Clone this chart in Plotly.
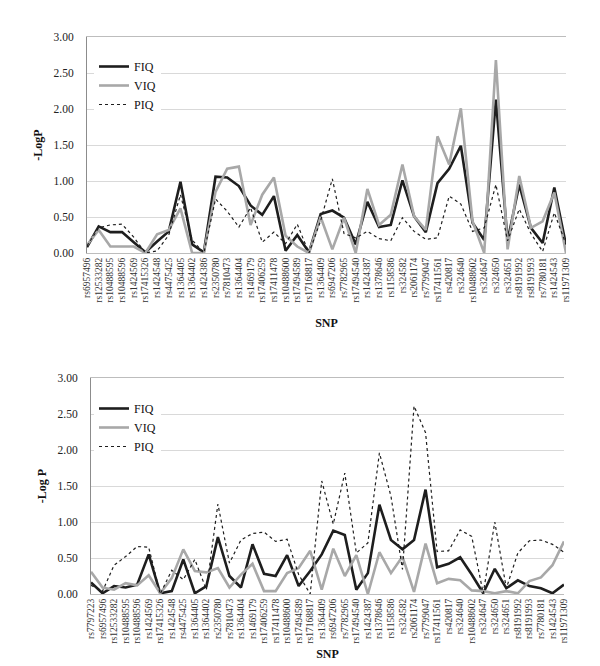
import plotly.graph_objects as go

# ---------------- data: top chart ----------------
snps_top = ["rs6957496", "rs12533282", "rs10488595", "rs10488596", "rs1424569", "rs17415326",
            "rs1424548", "rs4475425", "rs1364405", "rs1364402", "rs1424386", "rs2350780",
            "rs7810473", "rs1364404", "rs1469179", "rs17406259", "rs17411478", "rs10488600",
            "rs17494589", "rs17168817", "rs1364409", "rs6947206", "rs7782965", "rs17494540",
            "rs1424387", "rs1378646", "rs1158586", "rs324582", "rs2061174", "rs7799047",
            "rs17411561", "rs420817", "rs324640", "rs10488602", "rs324647", "rs324650",
            "rs324651", "rs8191992", "rs8191993", "rs7780181", "rs1424543", "rs11971309"]
fiq_top = [0.08, 0.37, 0.29, 0.29, 0.15, 0.01, 0.16, 0.30, 0.99, 0.12, 0.01, 1.06,
           1.05, 0.93, 0.66, 0.53, 0.79, 0.03, 0.25, 0.01, 0.54, 0.59, 0.49, 0.12,
           0.71, 0.36, 0.39, 1.01, 0.51, 0.29, 0.97, 1.17, 1.49, 0.42, 0.18, 2.13,
           0.17, 0.95, 0.35, 0.14, 0.91, 0.11]
viq_top = [0.11, 0.32, 0.09, 0.09, 0.09, 0.00, 0.26, 0.32, 0.62, 0.00, 0.00, 0.85,
           1.17, 1.20, 0.39, 0.81, 1.05, 0.24, 0.09, 0.00, 0.50, 0.05, 0.49, 0.00,
           0.89, 0.39, 0.53, 1.23, 0.51, 0.32, 1.62, 1.23, 2.01, 0.44, 0.00, 2.68,
           0.05, 1.07, 0.35, 0.44, 0.84, 0.00]
piq_top = [0.10, 0.35, 0.39, 0.40, 0.22, 0.00, 0.03, 0.25, 0.81, 0.18, 0.00, 0.75,
           0.58, 0.36, 0.63, 0.15, 0.29, 0.13, 0.40, 0.00, 0.45, 1.03, 0.27, 0.21,
           0.30, 0.20, 0.17, 0.49, 0.30, 0.19, 0.21, 0.79, 0.68, 0.30, 0.35, 0.95,
           0.17, 0.61, 0.27, 0.02, 0.56, 0.12]

# ---------------- data: bottom chart ----------------
snps_bot = ["rs7797223", "rs6957496", "rs12533282", "rs10488595", "rs10488596", "rs1424569",
            "rs17415326", "rs1424548", "rs4475425", "rs1364405", "rs1364402", "rs2350780",
            "rs7810473", "rs1364404", "rs1469179", "rs17406259", "rs17411478", "rs10488600",
            "rs17494589", "rs17168817", "rs1364409", "rs6947206", "rs7782965", "rs17494540",
            "rs1424387", "rs1378646", "rs1158586", "rs324582", "rs2061174", "rs7799047",
            "rs17411561", "rs420817", "rs324640", "rs10488602", "rs324647", "rs324650",
            "rs324651", "rs8191992", "rs8191993", "rs7780181", "rs1424543", "rs11971309"]
fiq_bot = [0.16, 0.01, 0.11, 0.09, 0.13, 0.55, 0.01, 0.04, 0.48, 0.01, 0.11, 0.79,
           0.25, 0.09, 0.69, 0.28, 0.25, 0.54, 0.11, 0.32, 0.55, 0.88, 0.82, 0.06,
           0.29, 1.24, 0.75, 0.62, 0.75, 1.45, 0.37, 0.42, 0.51, 0.27, 0.01, 0.35,
           0.08, 0.19, 0.11, 0.08, 0.01, 0.13]
viq_bot = [0.31, 0.09, 0.06, 0.15, 0.12, 0.26, 0.01, 0.22, 0.62, 0.32, 0.30, 0.36,
           0.09, 0.27, 0.42, 0.04, 0.04, 0.29, 0.36, 0.60, 0.06, 0.63, 0.25, 0.54,
           0.00, 0.58, 0.29, 0.52, 0.03, 0.70, 0.15, 0.21, 0.19, 0.05, 0.04, 0.01,
           0.04, 0.01, 0.18, 0.23, 0.40, 0.73]
piq_bot = [0.12, 0.04, 0.40, 0.52, 0.66, 0.65, 0.00, 0.33, 0.20, 0.48, 0.06, 1.25,
           0.43, 0.75, 0.84, 0.86, 0.73, 0.76, 0.27, 0.00, 1.57, 0.97, 1.68, 0.57,
           0.71, 1.96, 1.36, 0.34, 2.61, 2.24, 0.59, 0.60, 0.89, 0.80, 0.01, 1.00,
           0.08, 0.57, 0.74, 0.75, 0.69, 0.58]

y_ticks = [0, 0.5, 1.0, 1.5, 2.0, 2.5, 3.0]

SERIF = "Liberation Serif"
W, H = 600, 666

fig = go.Figure()

styles = [("FIQ", dict(color="#1e1e1e", width=2.6)),
          ("VIQ", dict(color="#a8a8a8", width=2.6)),
          ("PIQ", dict(color="#1e1e1e", width=1.2, dash="dot"))]

for (name, ln), vals in zip(styles, [fiq_top, viq_top, piq_top]):
    fig.add_trace(go.Scatter(x=snps_top, y=vals, mode="lines", name=name, line=ln,
                             xaxis="x", yaxis="y", legend="legend"))
for (name, ln), vals in zip(styles, [fiq_bot, viq_bot, piq_bot]):
    fig.add_trace(go.Scatter(x=snps_bot, y=vals, mode="lines", name=name, line=ln,
                             xaxis="x2", yaxis="y2", legend="legend2"))

def px_x(p):
    return p / W

def px_y(p):
    return 1 - p / H

top_dom_x = [px_x(79), px_x(558)]
top_dom_y = [px_y(245), px_y(29)]
bot_dom_x = [px_x(83), px_x(556)]
bot_dom_y = [px_y(586), px_y(370)]

def xaxis_style(standoff):
    return dict(type="category", tickmode="linear", tick0=0, dtick=1, tickangle=-90,
                showgrid=False, showline=True,
                linecolor="#bdbdbd", linewidth=1, mirror=True, ticks="",
                tickfont=dict(family=SERIF, size=9.5, color="#333"),
                title=dict(text="<b>SNP</b>", font=dict(family=SERIF, size=12, color="#111"),
                           standoff=standoff))

def yaxis_style(title):
    return dict(range=[0, 3], tickvals=y_ticks, tickformat=".2f", showgrid=True,
                gridcolor="#d9d9d9", gridwidth=1, showline=True, linecolor="#8c8c8c",
                linewidth=1, ticks="", zeroline=False, ticklabelstandoff=10,
                tickfont=dict(family=SERIF, size=11.5, color="#222"),
                title=dict(text="<b>" + title + "</b>",
                           font=dict(family=SERIF, size=12, color="#111"), standoff=8))

fig.update_layout(
    width=W, height=H, margin=dict(l=0, r=0, t=0, b=0, autoexpand=False),
    paper_bgcolor="white", plot_bgcolor="white",
    xaxis=dict(domain=top_dom_x, anchor="y", **xaxis_style(16)),
    yaxis=dict(domain=top_dom_y, anchor="x", **yaxis_style("-LogP")),
    xaxis2=dict(domain=bot_dom_x, anchor="y2", **xaxis_style(6)),
    yaxis2=dict(domain=bot_dom_y, anchor="x2", **yaxis_style("-Log P")),
    legend=dict(x=px_x(86), y=px_y(44), xanchor="left", yanchor="top",
                bgcolor="rgba(255,255,255,1)", itemwidth=30,
                font=dict(family=SERIF, size=12, color="#111"), tracegroupgap=0),
    legend2=dict(x=px_x(86), y=px_y(386), xanchor="left", yanchor="top",
                 bgcolor="rgba(255,255,255,1)", itemwidth=30,
                 font=dict(family=SERIF, size=12, color="#111"), tracegroupgap=0),
    showlegend=True,
)

fig.write_html("out.html")
